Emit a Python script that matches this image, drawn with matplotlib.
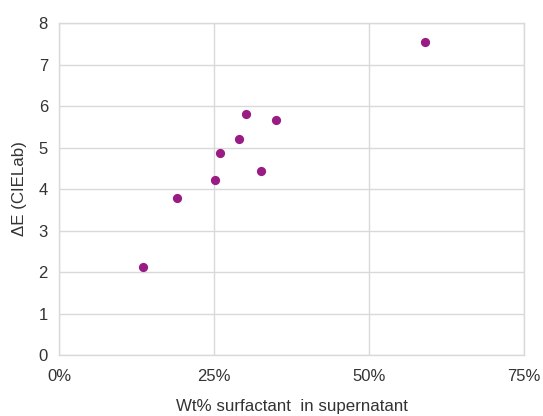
import matplotlib
matplotlib.use("Agg")
import matplotlib.pyplot as plt
from matplotlib.ticker import PercentFormatter

# data
wt_surfactant = [0.135, 0.190, 0.251, 0.260, 0.290, 0.301, 0.326, 0.350, 0.590]
delta_e = [2.11, 3.79, 4.22, 4.86, 5.21, 5.80, 4.44, 5.66, 7.55]

plt.rcParams['font.family'] = ['Liberation Sans', 'DejaVu Sans']

fig = plt.figure(figsize=(5.43, 4.16), dpi=100)
ax = fig.add_axes([0.1087, 0.1466, 0.8563, 0.7981])

ax.scatter(wt_surfactant, delta_e, s=44, color='#991C84', zorder=3, linewidths=0)

ax.set_xlim(0, 0.75)
ax.set_ylim(0, 8)
ax.set_xticks([0, 0.25, 0.5, 0.75])
ax.set_yticks(range(0, 9))
ax.xaxis.set_major_formatter(PercentFormatter(1.0, decimals=0))

ax.grid(True, color='#d9d9d9', linewidth=1)
ax.set_axisbelow(True)
for s in ax.spines.values():
    s.set_color('#d9d9d9')
    s.set_linewidth(1)

ax.tick_params(length=0, labelsize=12, colors='#333333')
ax.tick_params(axis='x', pad=10)
ax.tick_params(axis='y', pad=8)

ax.set_xlabel('Wt% surfactant  in supernatant', fontsize=12.2, color='#333333', labelpad=11)
ax.set_ylabel('ΔE (CIELab)', fontsize=12.2, color='#333333', labelpad=8)

fig.savefig('out.png', dpi=100)
